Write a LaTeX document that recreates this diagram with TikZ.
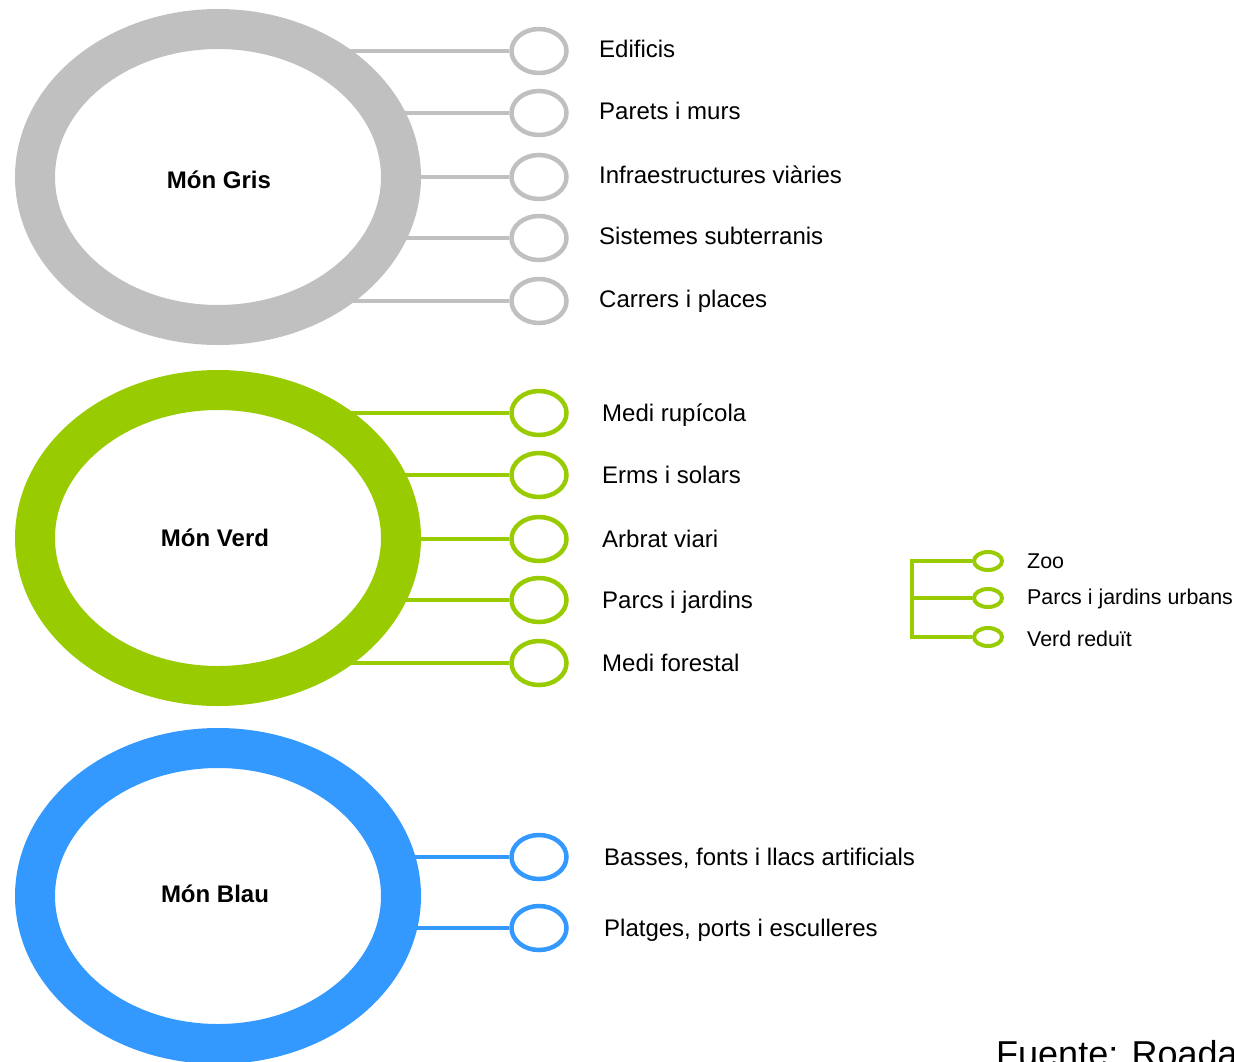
\documentclass[tikz,border=0pt]{standalone}
\usepackage{fontspec}
\setmainfont{Liberation Sans}
\usetikzlibrary{shapes.geometric,backgrounds}
\definecolor{cgris}{HTML}{C0C0C0}
\definecolor{cverd}{HTML}{99CC00}
\definecolor{cblau}{HTML}{3399FF}
\tikzset{
  ring/.style={ellipse, draw=#1, line width=40pt, fill=white, minimum width=366pt, minimum height=296pt, inner sep=0pt},
  ringlbl/.style={inner sep=0pt, font=\fontsize{24}{28}\selectfont\bfseries},
  leaf/.style={ellipse, draw=#1, line width=4.5pt, fill=white, minimum width=55pt, minimum height=44pt, inner sep=0pt},
  sleaf/.style={ellipse, draw=#1, line width=4pt, fill=white, minimum width=28pt, minimum height=18pt, inner sep=0pt},
  lbl/.style={anchor=base west, inner sep=0pt, font=\fontsize{24}{28}\selectfont},
  slbl/.style={anchor=base west, inner sep=0pt, font=\fontsize{21.4}{25}\selectfont},
  conn/.style={draw=#1, line width=4pt},
}
\begin{document}
\begin{tikzpicture}[x=1pt,y=-1pt]
\useasboundingbox (0,0) rectangle (1234,1061);
% rings
\node[ring=cgris] (gris) at (218,177) {};
\node[ring=cverd] (verd) at (218,538) {};
\node[ring=cblau] (blau) at (218,896) {};
\node[ringlbl] (grisl) at (219,180) {Món Gris};
\node[ringlbl] (verdl) at (215,538) {Món Verd};
\node[ringlbl] (blaul) at (215,894) {Món Blau};
% grey leaves
\foreach \i/\y/\t in {1/51/Edificis,2/113/Parets i murs,3/177/Infraestructures viàries,4/238/Sistemes subterranis,5/301/Carrers i places}{
  \node[leaf=cgris] (g\i) at (539,\y) {};
  \node[lbl] (gt\i) at (599,\y+6.5) {\t};
}
% green leaves
\foreach \i/\y/\t in {1/413/Medi rupícola,2/475/Erms i solars,3/539/Arbrat viari,4/600/Parcs i jardins,5/663/Medi forestal}{
  \node[leaf=cverd] (v\i) at (539,\y) {};
  \node[lbl] (vt\i) at (602,\y+8) {\t};
}
% blue leaves
\foreach \i/\y/\t in {1/857/{Basses, fonts i llacs artificials},2/928/{Platges, ports i esculleres}}{
  \node[leaf=cblau] (b\i) at (539,\y) {};
  \node[lbl] (bt\i) at (604,\y+8.5) {\t};
}
% small green group
\node[sleaf=cverd] (z1) at (988,561) {};
\node[sleaf=cverd] (z2) at (988,598) {};
\node[sleaf=cverd] (z3) at (988,637) {};
\node[slbl] (zt1) at (1027,568.5) {Zoo};
\node[slbl] (zt2) at (1027,604.5) {Parcs i jardins urbans};
\node[slbl] (zt3) at (1027,646) {Verd reduït};
\coordinate (bt) at (912,561);
\coordinate (bb) at (912,637);
% source
\node[anchor=base west, inner sep=0pt, font=\fontsize{36}{40}\selectfont] (src) at (996,1066) {Fuente: Roada};
% connectors
\begin{scope}[on background layer]
\foreach \i in {1,...,5}{
  \draw[conn=cgris] (gris.center |- g\i) -- (g\i.west);
  \draw[conn=cverd] (verd.center |- v\i) -- (v\i.west);
}
\foreach \i in {1,2}{
  \draw[conn=cblau] (blau.center |- b\i) -- (b\i.west);
}
\draw[conn=cverd] (z1.west) -- (bt) -- (bb) -- (z3.west);
\draw[conn=cverd] (bt |- z2) -- (z2.west);
\end{scope}
\end{tikzpicture}
\end{document}
